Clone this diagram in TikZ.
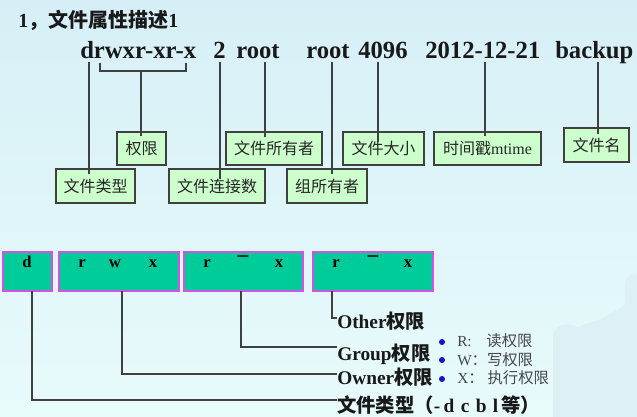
\documentclass[tikz,border=0pt]{standalone}
\usepackage{fontspec}
\setmainfont{Liberation Serif}
\newfontfamily\cjk{Noto Sans CJK SC}
\usetikzlibrary{calc}
\definecolor{bgtop}{RGB}{214,239,246}
\definecolor{bgbot}{RGB}{232,251,251}
\definecolor{blotch}{RGB}{220,240,246}
\definecolor{lblfill}{RGB}{204,255,204}
\definecolor{permfill}{RGB}{0,204,153}
\definecolor{permedge}{RGB}{214,80,230}
\definecolor{conncol}{RGB}{64,64,64}
\definecolor{bul}{RGB}{20,20,200}
\definecolor{notec}{RGB}{70,70,80}
\tikzset{
  word/.style={anchor=base west, inner sep=0, font=\fontsize{18.5}{20}\selectfont\bfseries, text=black!90},
  lbl/.style={draw=black!75, fill=lblfill, line width=0.9pt, inner sep=0, font=\cjk\fontsize{12}{14}\selectfont, text=black!85},
  conn/.style={draw=conncol, line width=0.95pt},
  perm/.style={draw=permedge, fill=permfill, line width=1.1pt, inner sep=0},
  letter/.style={anchor=base, inner sep=0, font=\fontsize{12.5}{14}\selectfont\bfseries},
  dashmark/.style={inner sep=0, font=\fontsize{16}{17}\selectfont\bfseries},
  big/.style={anchor=west, inner sep=0, font=\fontsize{14.5}{16}\selectfont\bfseries, text=black!90},
  note/.style={anchor=west, inner sep=0, font=\fontsize{11.5}{13}\selectfont, text=notec},
  bullet/.style={circle, fill=bul, inner sep=0, minimum size=4.5pt}
}
\begin{document}
\begin{tikzpicture}[x=0.75pt,y=-0.75pt]
\fill[top color=bgtop,bottom color=bgbot] (0,0) rectangle (637,417);
\useasboundingbox (0,0) rectangle (637,417);
% faint blotch bottom right
\fill[blotch] (553,417) -- (553,335) .. controls (556,322) and (570,323) .. (578,328)
  .. controls (585,322) and (598,322) .. (603,318) .. controls (612,312) and (620,310) .. (625,304)
  -- (625,285) .. controls (626,276) and (632,274) .. (637,274) -- (637,417) -- cycle;

% title
\node[anchor=west, inner sep=0, font=\fontsize{15}{17}\selectfont\bfseries, text=black!90] (title) at (18,20) {1{\cjk ，文件属性描述}1};

% listing words
\node[word] (wperm) at (80,59) {drwxr-xr-x};
\node[word] (wlink) at (213,59) {2};
\node[word] (wown) at (236,59) {root};
\node[word] (wgrp) at (306,59) {root};
\node[word] (wsize) at (358,59) {4096};
\node[word] (wdate) at (425,59) {2012-12-21};
\node[word] (wname) at (555,59) {backup};

% label boxes
\node[lbl, minimum width=36.75pt, minimum height=24.75pt] (bperm) at (141.5,148.5) {权限};
\node[lbl, minimum width=72pt, minimum height=24.75pt] (bown) at (274,148.5) {文件所有者};
\node[lbl, minimum width=60.75pt, minimum height=24.75pt] (bsize) at (383.5,148.5) {文件大小};
\node[lbl, minimum width=80.25pt, minimum height=24.75pt] (bdate) at (487.5,148.5) {时间戳{\rmfamily mtime}};
\node[lbl, minimum width=48.75pt, minimum height=25.5pt] (bname) at (596.5,145) {文件名};
\node[lbl, minimum width=59.25pt, minimum height=25.5pt] (btype) at (95.5,186) {文件类型};
\node[lbl, minimum width=72pt, minimum height=25.5pt] (blink) at (217,186) {文件连接数};
\node[lbl, minimum width=60pt, minimum height=25.5pt] (bgrp) at (327,186) {组所有者};

% connector start points under the characters
\coordinate (cd) at (89,62);
\coordinate (bl) at (100,63);
\coordinate (br) at (186,63);
\coordinate (bm) at (141,71);
\coordinate (c2) at (220,62);
\coordinate (co) at (265,62);
\coordinate (cg) at (332,62);
\coordinate (cs) at (378,62);
\coordinate (ct) at (485,62);
\coordinate (cn) at (598,62);

\draw[conn] (cd) -- ($(cd |- btype.north)+(0,6)$);
\draw[conn] (bl) -- (bl |- bm) -- (br |- bm) -- (br);
\draw[conn] (bm) -- ($(bm |- bperm.north)+(0,5)$);
\draw[conn] (c2) -- ($(c2 |- blink.north)+(0,11)$);
\draw[conn] (co) -- ($(co |- bown.north)+(0,6)$);
\draw[conn] (cg) -- ($(cg |- bgrp.north)+(0,6)$);
\draw[conn] (cs) -- ($(cs |- bsize.north)+(0,11)$);
\draw[conn] (ct) -- ($(ct |- bdate.north)+(0,5)$);
\draw[conn] (cn) -- ($(cn |- bname.north)+(0,7)$);

% permission boxes
\node[perm, minimum width=36.75pt, minimum height=29.25pt] (pd) at (27.5,271.5) {};
\node[perm, minimum width=90pt, minimum height=29.25pt] (p1) at (119,271.5) {};
\node[perm, minimum width=89.25pt, minimum height=29.25pt] (p2) at (243.5,271.5) {};
\node[perm, minimum width=90pt, minimum height=29.25pt] (p3) at (373,271.5) {};

\node[letter] (ld) at (27,268) {d};
\node[letter] (l1r) at (82,268) {r};
\node[letter] (l1w) at (115,268) {w};
\node[letter] (l1x) at (153,268) {x};
\node[letter] (l2r) at (207,268) {r};
\node[dashmark] (l2d) at (243,259) {–};
\node[letter] (l2x) at (279,268) {x};
\node[letter] (l3r) at (336,268) {r};
\node[dashmark] (l3d) at (373,259) {–};
\node[letter] (l3x) at (408,268) {x};

% explanation texts
\node[big] (tOther) at (337,321) {Other{\cjk 权限}};
\node[big] (tGroup) at (337,354) {Group{\cjk 权限}};
\node[big] (tOwner) at (337,377) {Owner{\cjk 权限}};
\node[big] (tType) at (337,405) {{\cjk 文件类型（}-\,d\,\,c\,\,b\,\,l\,{\cjk 等）}};

\coordinate (qd) at (32,291);
\coordinate (qw) at (122,291);
\coordinate (qg) at (241,291);
\coordinate (qo) at (332,291);
\draw[conn] (qd) |- ($(tType.west)+(0,-5)$);
\draw[conn] (qw) |- ($(tOwner.west)+(0,-3)$);
\draw[conn] (qg) |- ($(tGroup.west)+(0,-7)$);
\draw[conn] (qo) |- ($(tOther.west)+(0,-3)$);

% bullets
\node[bullet] (d1) at (442,342) {};
\node[bullet] (d2) at (442,360) {};
\node[bullet] (d3) at (442,379) {};
\node[note] (nR) at (457,341) {R:\hspace{11pt}{\cjk 读权限}};
\node[note] (nW) at (457,360) {W{\cjk ：写权限}};
\node[note] (nX) at (457,378) {X{\cjk ：\hspace{3pt}执行权限}};
\end{tikzpicture}
\end{document}
